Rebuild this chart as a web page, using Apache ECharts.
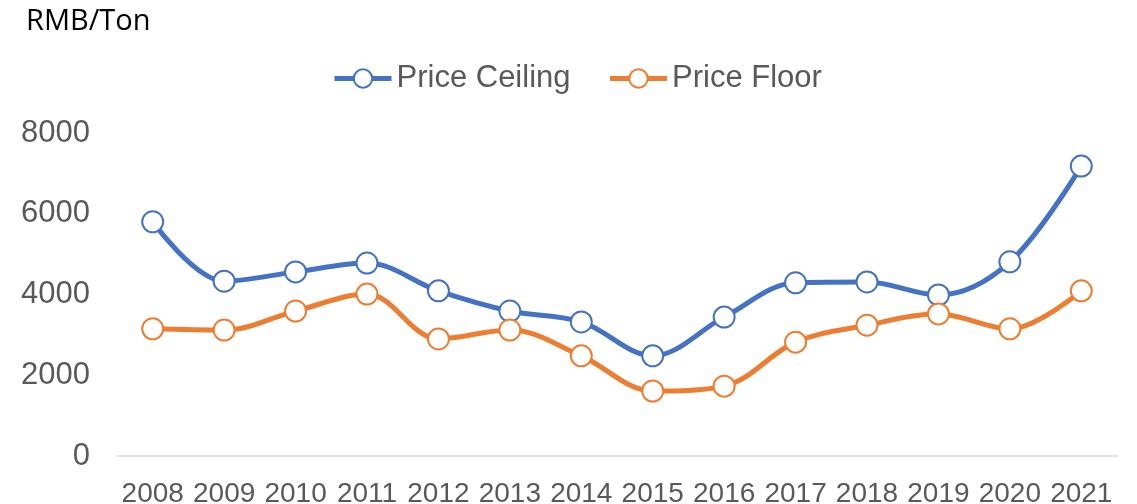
<!DOCTYPE html>
<html>
<head>
<meta charset="utf-8">
<title>Price Ceiling and Floor</title>
<script src="https://cdn.jsdelivr.net/npm/echarts@6/dist/echarts.min.js"></script>
<style>
	html, body { margin: 0; padding: 0; background: #fff; }
	#main { width: 1137px; height: 504px; }
</style>
</head>
<body>
<div id="main"></div>
<script>
var years = ["2008", "2009", "2010", "2011", "2012", "2013", "2014", "2015", "2016", "2017", "2018", "2019", "2020", "2021"];
var priceCeiling = [5800, 4330, 4560, 4780, 4090, 3590, 3320, 2480, 3440, 4290, 4310, 3990, 4810, 7180];
var priceFloor = [3150, 3120, 3590, 4010, 2900, 3120, 2480, 1610, 1730, 2820, 3240, 3520, 3150, 4090];
var yTicks = [0, 2000, 4000, 6000, 8000];

var myChart = echarts.init(document.getElementById("main"));

function lineSeries(name, data, color) {
	return {
		name: name,
		type: "line",
		data: data,
		smooth: 0.35,
		symbol: "circle",
		symbolSize: 21,
		lineStyle: { width: 5, color: color },
		itemStyle: { color: "#ffffff", borderColor: color, borderWidth: 2 }
	};
}

var option = {
	animation: false,
	title: {
		text: "RMB/Ton",
		left: 21,
		top: 2,
		textStyle: { fontFamily: "Open Sans", fontSize: 29, fontWeight: "normal", color: "#000" }
	},
	legend: {
		top: 58,
		left: 327,
		itemWidth: 57,
		itemHeight: 23,
		itemGap: 37,
		lineStyle: { width: 5 },
		textStyle: { fontFamily: "Liberation Sans", fontSize: 31, color: "#595959" },
		data: ["Price Ceiling", "Price Floor"]
	},
	grid: { left: 117, right: 20, top: 133, bottom: 48, outerBoundsMode: "none" },
	xAxis: {
		type: "category",
		data: years,
		boundaryGap: true,
		axisLine: { show: true, lineStyle: { color: "#D9D9D9", width: 1.5 } },
		axisTick: { show: false },
		axisLabel: { interval: 0, margin: 24, fontFamily: "Liberation Sans", fontSize: 28, color: "#595959" }
	},
	yAxis: {
		type: "value",
		min: yTicks[0],
		max: yTicks[yTicks.length - 1],
		interval: 2000,
		axisLine: { show: false },
		axisTick: { show: false },
		splitLine: { show: false },
		axisLabel: {
			margin: 27,
			fontFamily: "Liberation Sans",
			fontSize: 31,
			color: "#595959",
			formatter: function(v) { return String(v); }
		}
	},
	series: [
		lineSeries("Price Ceiling", priceCeiling, "#4472C4"),
		lineSeries("Price Floor", priceFloor, "#ED7D31")
	]
};
myChart.setOption(option);
</script>
</body>
</html>
